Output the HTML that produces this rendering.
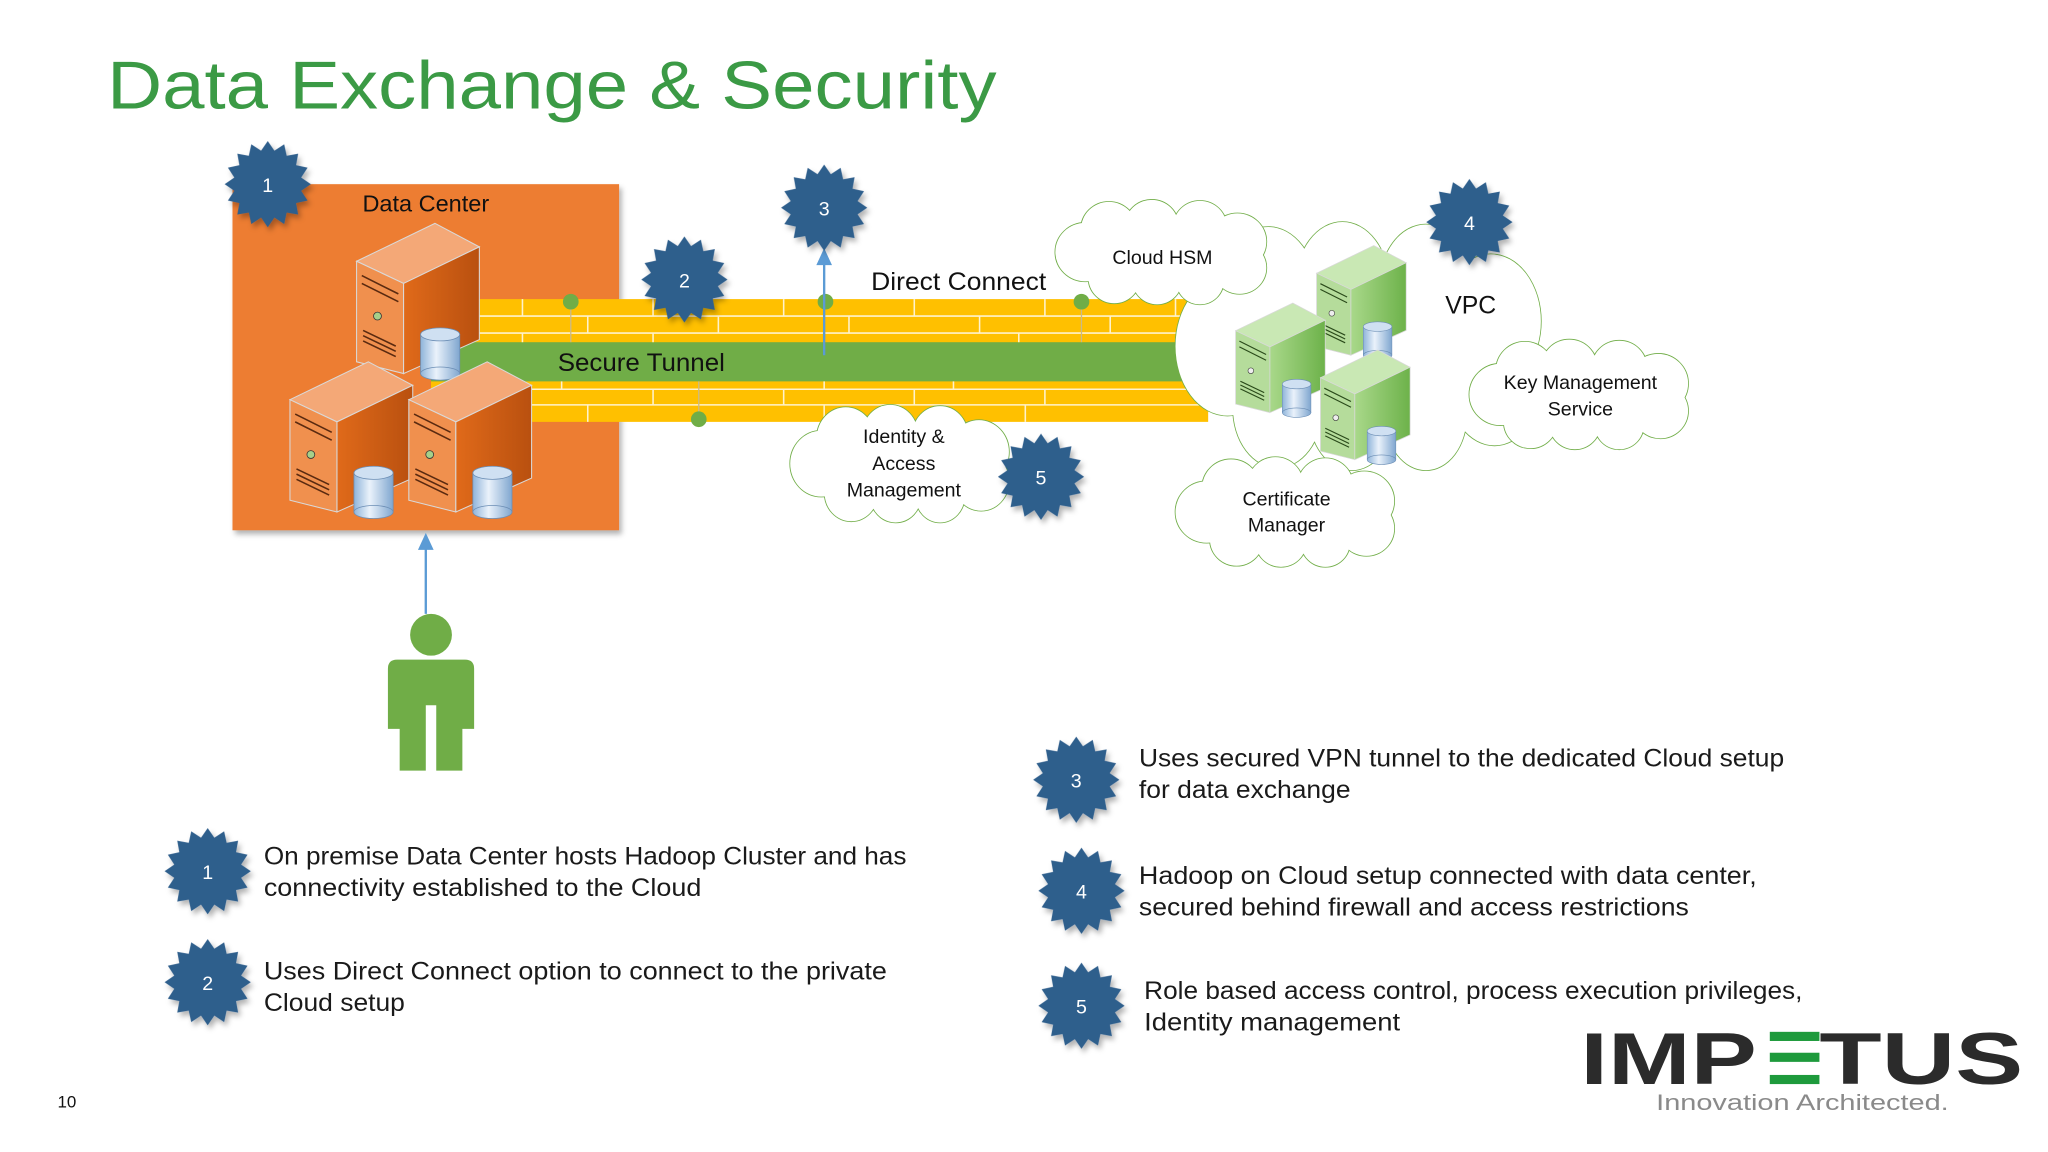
<!DOCTYPE html>
<html><head><meta charset="utf-8"><style>
html,body{margin:0;padding:0;background:#fff;}
svg{display:block;}
text{font-family:"Liberation Sans","DejaVu Sans",sans-serif;}
</style></head><body>
<svg width="2048" height="1152" viewBox="0 0 1568 882" preserveAspectRatio="none" xmlns="http://www.w3.org/2000/svg">
<defs>
<polygon id="star" points="0,-33 5.1,-25.6 12.6,-30.5 14.5,-21.7 23.3,-23.3 21.7,-14.5 30.5,-12.6 25.6,-5.1 33,0 25.6,5.1 30.5,12.6 21.7,14.5 23.3,23.3 14.5,21.7 12.6,30.5 5.1,25.6 0,33 -5.1,25.6 -12.6,30.5 -14.5,21.7 -23.3,23.3 -21.7,14.5 -30.5,12.6 -25.6,5.1 -33,0 -25.6,-5.1 -30.5,-12.6 -21.7,-14.5 -23.3,-23.3 -14.5,-21.7 -12.6,-30.5 -5.1,-25.6"/>
<g id="cloudS" stroke="#70AD47" stroke-width="1.6" fill="#fff" vector-effect="non-scaling-stroke">
<circle cx="-72" cy="0" r="28" vector-effect="non-scaling-stroke"/><circle cx="-50" cy="-22" r="26" vector-effect="non-scaling-stroke"/><circle cx="-10" cy="-25" r="25" vector-effect="non-scaling-stroke"/><circle cx="35" cy="-24" r="25" vector-effect="non-scaling-stroke"/><circle cx="70" cy="-10" r="27" vector-effect="non-scaling-stroke"/><circle cx="72" cy="15" r="25" vector-effect="non-scaling-stroke"/><circle cx="35" cy="28" r="22" vector-effect="non-scaling-stroke"/><circle cx="-5" cy="27" r="23" vector-effect="non-scaling-stroke"/><circle cx="-45" cy="25" r="24" vector-effect="non-scaling-stroke"/>
</g>
<g id="cloudF" fill="#fff">
<circle cx="-72" cy="0" r="28"/><circle cx="-50" cy="-22" r="26"/><circle cx="-10" cy="-25" r="25"/><circle cx="35" cy="-24" r="25"/><circle cx="70" cy="-10" r="27"/><circle cx="72" cy="15" r="25"/><circle cx="35" cy="28" r="22"/><circle cx="-5" cy="27" r="23"/><circle cx="-45" cy="25" r="24"/><ellipse cx="0" cy="2" rx="72" ry="32"/>
</g>
<linearGradient id="oside" x1="0" x2="1"><stop offset="0" stop-color="#E06A1A"/><stop offset="1" stop-color="#B9500F"/></linearGradient>
<linearGradient id="gside" x1="0" x2="1"><stop offset="0" stop-color="#A9D88A"/><stop offset="1" stop-color="#6DB24A"/></linearGradient>
<linearGradient id="cyl" x1="0" x2="1"><stop offset="0" stop-color="#8FB4DA"/><stop offset=".4" stop-color="#EAF2FB"/><stop offset="1" stop-color="#7FA6CF"/></linearGradient>
<g id="cylinder"><rect x="-15" y="0" width="30" height="30" fill="url(#cyl)" stroke="#6C8EB5" stroke-width=".6"/><ellipse cx="0" cy="30" rx="15" ry="5" fill="url(#cyl)" stroke="#6C8EB5" stroke-width=".6"/><ellipse cx="0" cy="0" rx="15" ry="5" fill="#CFE0F2" stroke="#6C8EB5" stroke-width=".6"/></g>
<g id="srvO">
<polygon points="0,29 60,0 94,18 36,46" fill="#F4A877" stroke="#D9D9D9" stroke-width=".8"/>
<polygon points="0,29 36,46 36,115 0,106" fill="#F0904E" stroke="#D9D9D9" stroke-width=".8"/>
<polygon points="36,46 94,18 94,89 36,115" fill="url(#oside)" stroke="#D9D9D9" stroke-width=".8"/>
<path d="M4,40 L32,54 M4,46 L32,60 M5,82 L30,94 M5,86 L30,98 M5,90 L30,102" stroke="#5a2a10" stroke-width="1.2"/>
<circle cx="16" cy="71" r="3" fill="#A6D08A" stroke="#333" stroke-width=".6"/>
<use href="#cylinder" x="64" y="85"/>
</g>
<g id="srvG">
<polygon points="0,29 60,0 94,18 36,46" fill="#C9E8B4" stroke="#D9D9D9" stroke-width=".8"/>
<polygon points="0,29 36,46 36,115 0,106" fill="#B5DC9B" stroke="#D9D9D9" stroke-width=".8"/>
<polygon points="36,46 94,18 94,89 36,115" fill="url(#gside)" stroke="#D9D9D9" stroke-width=".8"/>
<path d="M4,40 L32,54 M4,46 L32,60 M5,82 L30,94 M5,86 L30,98 M5,90 L30,102" stroke="#2a4a1a" stroke-width="1.2"/>
<circle cx="16" cy="71" r="3" fill="#eee" stroke="#333" stroke-width=".6"/>
<use href="#cylinder" x="64" y="85"/>
</g>
<filter id="sh" x="-20%" y="-20%" width="150%" height="150%"><feDropShadow dx="2" dy="3" stdDeviation="2" flood-color="#000" flood-opacity=".3"/></filter>
</defs>

<!-- Title -->
<text x="82" y="83" font-size="52" fill="#3B9A45" textLength="681" lengthAdjust="spacingAndGlyphs">Data Exchange &amp; Security</text>

<!-- Data center -->
<rect x="178" y="141" width="296" height="265" fill="#ED7D31" filter="url(#sh)"/>
<text x="326" y="162" font-size="18" text-anchor="middle" fill="#111">Data Center</text>

<!-- Pipe -->
<g>
<rect x="330" y="229" width="595" height="94" fill="#FFC000"/>
<rect x="330" y="262" width="585" height="30" fill="#70AD47"/>
<g stroke="#FFF2CC" stroke-width="1.2">
<line x1="330" y1="242" x2="925" y2="242"/><line x1="330" y1="255" x2="925" y2="255"/>
<line x1="330" y1="298" x2="925" y2="298"/><line x1="330" y1="310" x2="925" y2="310"/>
<line x1="400" y1="229" x2="400" y2="242"/><line x1="500" y1="229" x2="500" y2="242"/><line x1="600" y1="229" x2="600" y2="242"/><line x1="700" y1="229" x2="700" y2="242"/><line x1="800" y1="229" x2="800" y2="242"/><line x1="900" y1="229" x2="900" y2="242"/>
<line x1="450" y1="242" x2="450" y2="255"/><line x1="550" y1="242" x2="550" y2="255"/><line x1="650" y1="242" x2="650" y2="255"/><line x1="750" y1="242" x2="750" y2="255"/><line x1="850" y1="242" x2="850" y2="255"/>
<line x1="400" y1="255" x2="400" y2="262"/><line x1="500" y1="255" x2="500" y2="262"/><line x1="631" y1="255" x2="631" y2="262"/><line x1="780" y1="255" x2="780" y2="262"/>
<line x1="430" y1="292" x2="430" y2="298"/><line x1="631" y1="292" x2="631" y2="298"/><line x1="730" y1="292" x2="730" y2="298"/>
<line x1="400" y1="298" x2="400" y2="310"/><line x1="500" y1="298" x2="500" y2="310"/><line x1="600" y1="298" x2="600" y2="310"/><line x1="700" y1="298" x2="700" y2="310"/><line x1="800" y1="298" x2="800" y2="310"/>
<line x1="450" y1="310" x2="450" y2="323"/><line x1="631" y1="310" x2="631" y2="323"/><line x1="785" y1="310" x2="785" y2="323"/>
</g>
<g stroke="#C9B98A" stroke-width="1"><line x1="437" y1="231" x2="437" y2="262"/><line x1="828" y1="231" x2="828" y2="262"/><line x1="535" y1="292" x2="535" y2="321"/></g>
<g fill="#70AD47"><circle cx="437" cy="231" r="6"/><circle cx="632" cy="231" r="6"/><circle cx="828" cy="231" r="6"/><circle cx="535" cy="321" r="6"/></g>
<text x="427" y="284" font-size="19" fill="#111" textLength="128" lengthAdjust="spacingAndGlyphs">Secure Tunnel</text>
</g>

<!-- servers orange -->
<use href="#srvO" x="273" y="171"/>
<use href="#srvO" x="222" y="277"/>
<use href="#srvO" x="313" y="277"/>

<!-- arrows -->
<line x1="631" y1="272" x2="631" y2="200" stroke="#5B9BD5" stroke-width="1.8"/>
<polygon points="631,190 625,203 637,203" fill="#5B9BD5"/>
<line x1="326" y1="470" x2="326" y2="418" stroke="#5B9BD5" stroke-width="1.8"/>
<polygon points="326,408 320,421 332,421" fill="#5B9BD5"/>

<text x="667" y="222" font-size="19" fill="#111" textLength="134" lengthAdjust="spacingAndGlyphs">Direct Connect</text>

<!-- VPC cloud -->
<g transform="translate(1042,265) scale(1.42,1.9)"><use href="#cloudS"/><use href="#cloudF"/></g>
<!-- small clouds -->
<g transform="translate(890,193) scale(0.82,0.8)"><use href="#cloudS"/><use href="#cloudF"/></g>
<g transform="translate(690,355) scale(0.85,0.9)"><use href="#cloudS"/><use href="#cloudF"/></g>
<g transform="translate(1210,302) scale(0.85,0.84)"><use href="#cloudS"/><use href="#cloudF"/></g>
<g transform="translate(985,392) scale(0.85,0.84)"><use href="#cloudS"/><use href="#cloudF"/></g>

<g font-size="15" fill="#111" text-anchor="middle">
<text x="890" y="202">Cloud HSM</text>
<text x="692" y="339">Identity &amp;</text><text x="692" y="360">Access</text><text x="692" y="380">Management</text>
<text x="1210" y="298">Key Management</text><text x="1210" y="318">Service</text>
<text x="985" y="387">Certificate</text><text x="985" y="407">Manager</text>
</g>
<text x="1126" y="240" font-size="19" text-anchor="middle" fill="#111">VPC</text>

<!-- green servers -->
<use href="#srvG" transform="translate(1008,188) scale(0.73)"/>
<use href="#srvG" transform="translate(946,232) scale(0.73)"/>
<use href="#srvG" transform="translate(1011,268) scale(0.73)"/>

<!-- person -->
<g fill="#70AD47">
<circle cx="330" cy="486" r="16"/>
<path d="M304,505 L356,505 Q363,505 363,512 L363,558 L354,558 L354,590 L334,590 L334,540 L326,540 L326,590 L306,590 L306,558 L297,558 L297,512 Q297,505 304,505 Z"/>
</g>

<!-- stars -->
<g fill="#2F5E8C" filter="url(#sh)">
<use href="#star" x="205" y="141"/><use href="#star" x="524" y="214"/><use href="#star" x="631" y="159"/><use href="#star" x="1125" y="170"/><use href="#star" x="797" y="365"/>
<use href="#star" x="824" y="597"/><use href="#star" x="159" y="667"/><use href="#star" x="828" y="682"/><use href="#star" x="159" y="752"/><use href="#star" x="828" y="770"/>
</g>
<g fill="#fff" font-size="15" text-anchor="middle">
<text x="205" y="147">1</text><text x="524" y="220">2</text><text x="631" y="165">3</text><text x="1125" y="176">4</text><text x="797" y="371">5</text>
<text x="824" y="603">3</text><text x="159" y="673">1</text><text x="828" y="688">4</text><text x="159" y="758">2</text><text x="828" y="776">5</text>
</g>

<!-- legend -->
<g font-size="19" fill="#1a1a1a">
<text x="872" y="587" textLength="494" lengthAdjust="spacingAndGlyphs">Uses secured VPN tunnel to the dedicated Cloud setup</text>
<text x="872" y="611" textLength="162" lengthAdjust="spacingAndGlyphs">for data exchange</text>
<text x="202" y="662" textLength="492" lengthAdjust="spacingAndGlyphs">On premise Data Center hosts Hadoop Cluster and has</text>
<text x="202" y="686" textLength="335" lengthAdjust="spacingAndGlyphs">connectivity established to the Cloud</text>
<text x="872" y="677" textLength="473" lengthAdjust="spacingAndGlyphs">Hadoop on Cloud setup connected with data center,</text>
<text x="872" y="701" textLength="421" lengthAdjust="spacingAndGlyphs">secured behind firewall and access restrictions</text>
<text x="202" y="750" textLength="477" lengthAdjust="spacingAndGlyphs">Uses Direct Connect option to connect to the private</text>
<text x="202" y="774" textLength="108" lengthAdjust="spacingAndGlyphs">Cloud setup</text>
<text x="876" y="765" textLength="504" lengthAdjust="spacingAndGlyphs">Role based access control, process execution privileges,</text>
<text x="876" y="789" textLength="196" lengthAdjust="spacingAndGlyphs">Identity management</text>
</g>

<!-- logo -->
<g fill="#2B2B2B" font-weight="bold" font-size="56">
<text x="1210" y="830" textLength="135" lengthAdjust="spacingAndGlyphs">IMP</text>
<text x="1393" y="830" textLength="156" lengthAdjust="spacingAndGlyphs">TUS</text>
</g>
<g fill="#1E9A3C"><rect x="1355" y="790" width="38" height="7"/><rect x="1355" y="806" width="38" height="7"/><rect x="1355" y="823" width="38" height="7"/></g>
<text x="1268" y="850" font-size="17" fill="#8A8A8A" textLength="224" lengthAdjust="spacingAndGlyphs">Innovation Architected.</text>

<text x="44" y="848" font-size="13" fill="#111">10</text>
</svg>
</body></html>
